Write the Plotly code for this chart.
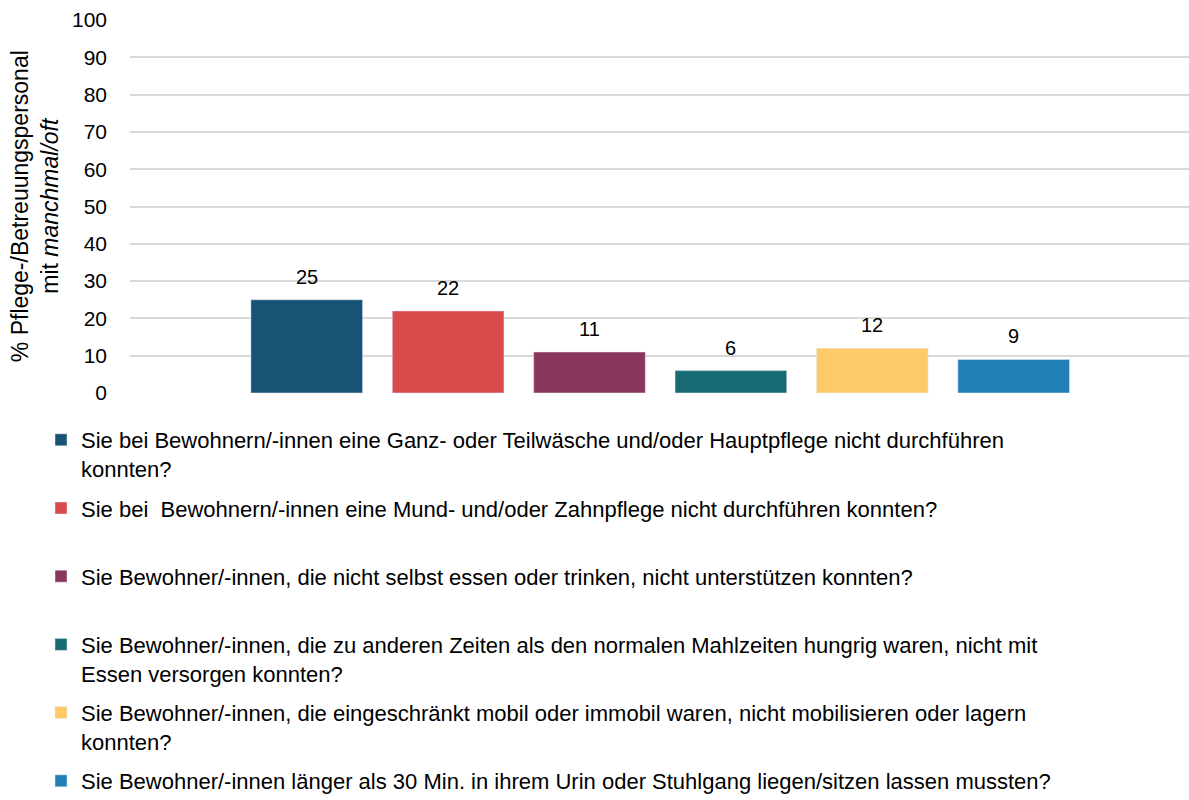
import plotly.graph_objects as go

# Survey items (legend labels) and shares of staff answering "manchmal/oft"
items = [
    "Sie bei Bewohnern/-innen eine Ganz- oder Teilwäsche und/oder Hauptpflege nicht durchführen<br>konnten?",
    "Sie bei\u00a0 Bewohnern/-innen eine Mund- und/oder Zahnpflege nicht durchführen konnten?<br> ",
    "Sie Bewohner/-innen, die nicht selbst essen oder trinken, nicht unterstützen konnten?<br> ",
    "Sie Bewohner/-innen, die zu anderen Zeiten als den normalen Mahlzeiten hungrig waren, nicht mit<br>Essen versorgen konnten?",
    "Sie Bewohner/-innen, die eingeschränkt mobil oder immobil waren, nicht mobilisieren oder lagern<br>konnten?",
    "Sie Bewohner/-innen länger als 30 Min. in ihrem Urin oder Stuhlgang liegen/sitzen lassen mussten?",
]
values = [25, 22, 11, 6, 12, 9]
colors = ["#175375", "#D94A4A", "#8A375D", "#186B74", "#FDCA67", "#2280B4"]
y_ticks = [0, 10, 20, 30, 40, 50, 60, 70, 80, 90, 100]
y_title = "% Pflege-/Betreuungspersonal<br>mit <i>manchmal/oft</i>"

FONT = "Liberation Sans, Arial, sans-serif"

fig = go.Figure()
for i, (name, v, c) in enumerate(zip(items, values, colors)):
    fig.add_trace(go.Bar(
        x=[i], y=[v], name=name, marker_color=c, width=0.79,
        legendgroup=f"g{i}", hoverinfo="skip",
    ))
    fig.add_annotation(
        x=i, y=v, text=str(v), showarrow=False, yanchor="bottom", yshift=10,
        font=dict(family=FONT, size=20, color="#000000"),
    )

# rotated axis title to the left of the tick labels
fig.add_annotation(
    xref="paper", yref="paper", x=-0.09, y=0.5, xanchor="center", yanchor="middle",
    text=y_title, textangle=-90, showarrow=False,
    font=dict(family=FONT, size=23, color="#000000"),
)

fig.update_layout(
    width=1189, height=800,
    margin=dict(l=130, r=0, t=20, b=407, autoexpand=False),
    paper_bgcolor="white", plot_bgcolor="white",
    barmode="overlay",
    font=dict(family=FONT, color="#000000"),
    showlegend=True,
    legend=dict(
        xref="container", yref="container",
        x=41 / 1189, y=1 - 419 / 800, xanchor="left", yanchor="top",
        orientation="v", traceorder="grouped", valign="top",
        tracegroupgap=8, itemwidth=30,
        font=dict(family=FONT, size=22, color="#000000"),
        bgcolor="rgba(0,0,0,0)",
    ),
    xaxis=dict(
        range=[-1.25, 6.24], showticklabels=False, showgrid=False,
        zeroline=False, showline=False, fixedrange=True,
    ),
    yaxis=dict(
        range=[0, 100], tickvals=y_ticks, showgrid=True,
        gridcolor="#D9D9D9", gridwidth=1.5, zeroline=False, showline=False,
        tickfont=dict(family=FONT, size=21, color="#000000"),
        ticklabelstandoff=22,
    ),
)

fig.write_html("out.html")
